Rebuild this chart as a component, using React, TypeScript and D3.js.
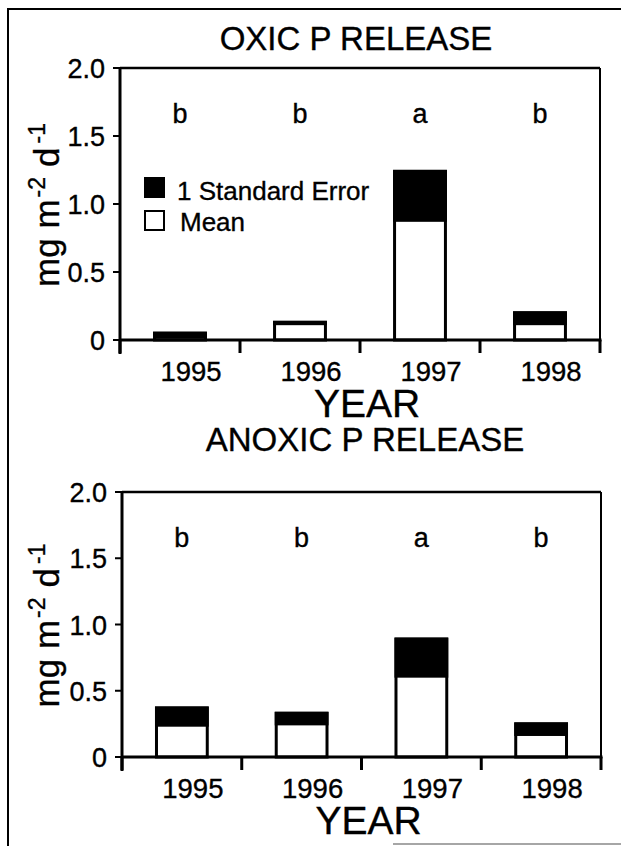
import React from "react";
import * as d3 from "d3";

const years = ["1995", "1996", "1997", "1998"];
const oxicMean = [0.02, 0.12, 0.88, 0.12];
const oxicSE = [0.03, 0.01, 0.36, 0.08];
const anoxicMean = [0.24, 0.25, 0.61, 0.17];
const anoxicSE = [0.13, 0.08, 0.28, 0.08];
const sigLetters = ["b", "b", "a", "b"];
const yTickValues = [0, 0.5, 1.0, 1.5, 2.0];
const yTickLabels = ["0", "0.5", "1.0", "1.5", "2.0"];
const legendLabels = ["1 Standard Error", "Mean"];

const FONT = "'Liberation Sans', Arial, Helvetica, sans-serif";

type PanelProps = {
  title: string;
  mean: number[];
  se: number[];
  left: number;
  right: number;
  top: number;
  bottom: number;
  titleX: number;
  titleY: number;
  legend?: boolean;
};

function Panel({ title, mean, se, left, right, top, bottom, titleX, titleY, legend }: PanelProps) {
  const x = d3.scaleBand<string>().domain(years).range([left, right]).paddingInner(0.576).paddingOuter(0.288);
  const y = d3.scaleLinear().domain([0, 2]).range([bottom, top]);
  const step = x.step();
  const boundaries = d3.range(years.length + 1).map((i) => left + i * step);
  const cy = (top + bottom) / 2 + 1;
  return (
    <g fontFamily={FONT} fill="#000" stroke="#000" strokeWidth={0.35}>
      <text x={titleX} y={titleY} textAnchor="middle" fontSize={33}>{title}</text>
      {/* frame */}
      <line x1={left} x2={right} y1={top} y2={top} stroke="#000" strokeWidth={2.5} />
      <line x1={right} x2={right} y1={top} y2={bottom} stroke="#000" strokeWidth={2} />
      {/* bars */}
      {years.map((yr, i) => {
        const bx = x(yr)!;
        const bw = x.bandwidth();
        const yMean = y(mean[i]);
        const yTop = y(mean[i] + se[i]);
        return (
          <g key={yr}>
            <rect x={bx} y={yTop} width={bw} height={bottom - yTop} fill="#fff" stroke="#000" strokeWidth={3} />
            <rect x={bx} y={yTop} width={bw} height={yMean - yTop} fill="#000" stroke="#000" strokeWidth={3} />
            <text x={bx + bw / 2} y={top + 55} textAnchor="middle" fontSize={27}>{sigLetters[i]}</text>
            <text x={bx + bw / 2 + 11} y={bottom + 41} textAnchor="middle" fontSize={27.5}>{yr}</text>
          </g>
        );
      })}
      {/* axes */}
      <line x1={left} x2={left} y1={top - 1} y2={bottom + 14} stroke="#000" strokeWidth={3} />
      <line x1={left} x2={right + 1.5} y1={bottom} y2={bottom} stroke="#000" strokeWidth={3} />
      {boundaries.map((bx, i) => (
        <line key={i} x1={bx} x2={bx} y1={bottom} y2={bottom + 13} stroke="#000" strokeWidth={3} />
      ))}
      {yTickValues.map((v, i) => (
        <g key={v}>
          <line x1={left - 7} x2={left} y1={y(v)} y2={y(v)} stroke="#000" strokeWidth={2} />
          <text x={left - 15} y={y(v) + 10} textAnchor="end" fontSize={27}>{yTickLabels[i]}</text>
        </g>
      ))}
      <text transform={`translate(59, ${cy}) rotate(-90)`} textAnchor="middle" fontSize={35}>
        mg m<tspan dx={2} dy={-14} fontSize={23}>-2</tspan>
        <tspan dx={10} dy={14}>d</tspan>
        <tspan dx={4} dy={-14} fontSize={23}>-1</tspan>
      </text>
      <text x={(left + right) / 2 + 7} y={bottom + 77} textAnchor="middle" fontSize={39}>YEAR</text>
      {legend && (
        <g>
          <rect x={145} y={178} width={19} height={19} fill="#000" stroke="#000" strokeWidth={2} />
          <text x={177} y={200} fontSize={26}>{legendLabels[0]}</text>
          <rect x={145} y={211} width={19} height={19} fill="#fff" stroke="#000" strokeWidth={2} />
          <text x={180} y={231} fontSize={26}>{legendLabels[1]}</text>
        </g>
      )}
    </g>
  );
}

export default function App() {
  return (
    <svg
      width={621}
      height={846}
      style={{ position: "absolute", left: 0, top: 0, background: "#fff" }}
    >
      <rect x={0} y={0} width={621} height={846} fill="#fff" />
      <line x1={8} x2={621} y1={9} y2={9} stroke="#000" strokeWidth={2} />
      <line x1={8} x2={8} y1={8} y2={846} stroke="#000" strokeWidth={2} />
      <line x1={393} x2={621} y1={844} y2={844} stroke="#888" strokeWidth={1.5} />
      <Panel title="OXIC P RELEASE" mean={oxicMean} se={oxicSE} left={120} right={600} top={68} bottom={340} titleX={356} titleY={50} legend />
      <Panel title="ANOXIC P RELEASE" mean={anoxicMean} se={anoxicSE} left={122} right={601} top={492} bottom={757} titleX={365} titleY={451} />
    </svg>
  );
}
